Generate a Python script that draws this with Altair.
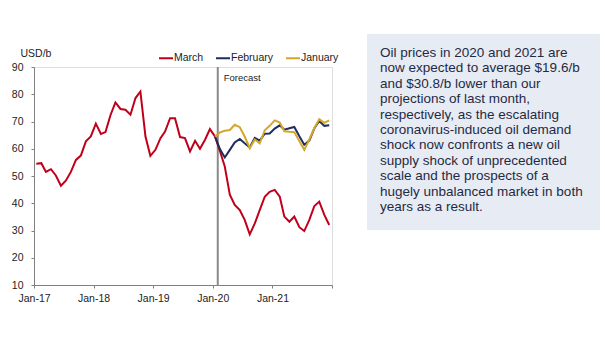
import altair as alt
import pandas as pd

# ---- data ----
march = [
    54.5, 54.7, 51.5, 52.5, 50.2, 46.4, 48.3, 51.5, 55.9, 57.5, 62.7, 64.5,
    69.2, 65.4, 66.1, 72.4, 77.0, 74.6, 74.3, 72.5, 78.6, 81.0, 64.5, 57.4,
    59.6, 63.9, 66.3, 71.2, 71.2, 64.3, 63.9, 59.0, 62.9, 60.0, 63.3, 67.2,
    64.5, 59.0, 53.5, 43.1, 39.4, 37.5, 33.9, 28.6, 32.6, 37.5, 42.4, 44.2,
    44.9, 42.4, 35.1, 33.2, 35.1, 31.2, 29.8, 33.9, 39.0, 40.6, 35.7, 32.0,
]
february = [
    64.5, 59.8, 56.8, 59.6, 62.3, 63.6, 62.0, 60.5, 64.0, 63.0, 65.5, 65.6,
    67.4, 68.6, 67.0, 67.5, 68.0, 64.6, 61.5, 63.0, 67.5, 70.2, 68.4, 68.6,
]
january = [
    64.5, 66.0, 66.6, 66.9, 68.8, 67.9, 64.5, 60.2, 63.4, 62.0, 66.8, 68.4,
    70.4, 69.6, 66.4, 66.2, 66.1, 62.8, 59.6, 63.4, 67.6, 70.8, 69.5, 70.4,
]
series_names = ["March", "February", "January"]
series_colors = ["#C0001A", "#1F2D5C", "#D4A62A"]

months_all = [f"{y}-{m:02d}-15" for y in range(2017, 2022) for m in range(1, 13)]
months_fc = [f"{y}-{m:02d}-15" for y in range(2020, 2022) for m in range(1, 13)]

forecast_date = ["2020-02-01"]
forecast_label = ["Forecast"]

box_text = (
    "Oil prices in 2020 and 2021 are\n"
    "now expected to average $19.6/b\n"
    "and $30.8/b lower than our\n"
    "projections of last month,\n"
    "respectively, as the escalating\n"
    "coronavirus-induced oil demand\n"
    "shock now confronts a new oil\n"
    "supply shock of unprecedented\n"
    "scale and the prospects of a\n"
    "hugely unbalanced market in both\n"
    "years as a result."
)

df = pd.concat([
    pd.DataFrame({"date": months_all, "value": march, "series": "March"}),
    pd.DataFrame({"date": months_fc, "value": february, "series": "February"}),
    pd.DataFrame({"date": months_fc, "value": january, "series": "January"}),
], ignore_index=True)

fc_df = pd.DataFrame({"date": forecast_date, "label": forecast_label})
box_df = pd.DataFrame({"t": [box_text]})

FONT = "Liberation Sans"

x_enc = alt.X(
    "date:T",
    scale=alt.Scale(
        type="utc",
        domain=[alt.DateTime(year=2017, month=1, date=1, utc=True),
                alt.DateTime(year=2022, month=1, date=1, utc=True)],
    ),
    axis=alt.Axis(
        title=None,
        values=[alt.DateTime(year=y, month=1, date=1, utc=True) for y in range(2017, 2023)],
        labelExpr="utcyear(datum.value) >= 2022 ? '' : utcFormat(datum.value, '%b-%y')",
        labelFlush=False,
        labelOverlap=False,
        grid=False,
        domainColor="#808080",
        tickColor="#808080",
        tickSize=3,
        labelPadding=5,
        labelFontSize=10.5,
        labelColor="#222222",
        labelFont=FONT,
    ),
)

lines = alt.Chart(df).mark_line(strokeWidth=2).encode(
    x=x_enc,
    y=alt.Y(
        "value:Q",
        scale=alt.Scale(domain=[10, 90], nice=False, zero=False),
        axis=alt.Axis(
            title="USD/b",
            titleAngle=0,
            titleX=-14,
            titleY=-14,
            titleAlign="left",
            titleBaseline="middle",
            titleFontSize=10.5,
            titleFontWeight="normal",
            titleColor="#222222",
            titleFont=FONT,
            values=list(range(10, 91, 10)),
            grid=False,
            domainColor="#808080",
            tickColor="#808080",
            tickSize=3,
            labelPadding=8,
            labelFontSize=10.5,
            labelColor="#222222",
            labelFont=FONT,
        ),
    ),
    color=alt.Color(
        "series:N",
        scale=alt.Scale(domain=series_names, range=series_colors),
        legend=alt.Legend(
            title=None,
            orient="none",
            legendX=124,
            legendY=-17,
            direction="horizontal",
            symbolType="stroke",
            symbolSize=196,
            symbolStrokeWidth=2,
            labelFontSize=10.5,
            labelFont=FONT,
            labelColor="#222222",
            labelOffset=0,
            columnPadding=8,
            padding=0,
        ),
    ),
    order=alt.Order("date:T"),
    detail="series:N",
)

rule = alt.Chart(fc_df).mark_rule(color="#8A8A8A", strokeWidth=2).encode(x="date:T")

fc_text = alt.Chart(fc_df).mark_text(
    align="left", baseline="middle", dx=6, fontSize=9.5, font=FONT, color="#222222"
).encode(x="date:T", y=alt.value(11), text="label:N")

box = alt.Chart(box_df).mark_rect(color="#E7ECF4").encode(
    x=alt.value(333), x2=alt.value(566), y=alt.value(-33), y2=alt.value(163)
)

box_txt = alt.Chart(box_df).mark_text(
    align="left", baseline="top", lineBreak="\n", lineHeight=15.4,
    fontSize=13.5, font=FONT, color="#1F2A44"
).encode(x=alt.value(346), y=alt.value(-21), text="t:N")

chart = alt.layer(box, box_txt, rule, fc_text, lines).properties(
    width=298,
    height=218,
    padding={"left": 34, "top": 67, "right": 273, "bottom": 56},
    autosize=alt.AutoSizeParams(type="none"),
).configure_view(stroke=None).configure(background="white")

chart.save("out.html", embed_options={"renderer": "svg", "actions": False})
